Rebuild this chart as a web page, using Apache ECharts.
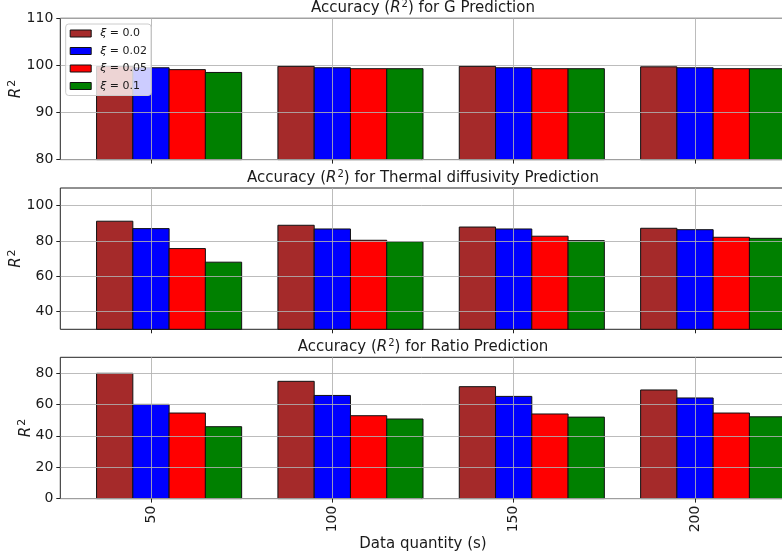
<!DOCTYPE html>
<html>
<head>
<meta charset="utf-8">
<style>
  html, body { margin: 0; padding: 0; background: #fff; }
  #chart { width: 782px; height: 558px; }
</style>
<script src="https://cdn.jsdelivr.net/npm/echarts@6/dist/echarts.min.js"></script>
</head>
<body>
<div id="chart"></div>
<script>
// Data quantity (s) on the shared x axis
const quantities = [50, 100, 150, 200];
const xTicks = [50, 100, 150, 200];

// Noise levels and their bar colours
const xiNames = ['ξ = 0.0', 'ξ = 0.02', 'ξ = 0.05', 'ξ = 0.1'];
const xiColors = ['#a52a2a', '#0000ff', '#ff0000', '#008000'];

// R² for G prediction
const gXi000 = [99.8, 99.8, 99.8, 99.7];
const gXi002 = [99.5, 99.5, 99.5, 99.5];
const gXi005 = [99.1, 99.3, 99.3, 99.3];
const gXi010 = [98.5, 99.3, 99.3, 99.3];

// R² for thermal diffusivity prediction
const tdXi000 = [91.2, 88.9, 87.9, 87.2];
const tdXi002 = [87.0, 86.8, 86.8, 86.4];
const tdXi005 = [75.7, 80.4, 82.7, 82.1];
const tdXi010 = [68.0, 79.6, 80.2, 81.5];

// R² for ratio prediction
const rXi000 = [79.8, 74.7, 71.3, 69.2];
const rXi002 = [60.0, 65.7, 65.1, 64.1];
const rXi005 = [54.5, 52.8, 53.9, 54.5];
const rXi010 = [45.8, 50.7, 51.9, 52.1];

// y tick values per panel
const gTicks = [80, 90, 100, 110];
const tdTicks = [40, 60, 80, 100];
const rTicks = [0, 20, 40, 60, 80];

const panelTitles = ['G', 'Thermal diffusivity', 'Ratio'];

// Bar width in data units; series i is shifted by (i - 1) widths
const BAR_W = 10;

const FONT = 'DejaVu Sans';
const TEXT = '#1a1a1a';

const panels = [
  { series: [gXi000, gXi002, gXi005, gXi010], min: 80, max: 110, ticks: gTicks, top: 18.3, nameGap: 35 },
  { series: [tdXi000, tdXi002, tdXi005, tdXi010], min: 30, max: 110, ticks: tdTicks, top: 188, nameGap: 35 },
  { series: [rXi000, rXi002, rXi005, rXi010], min: 0, max: 90, ticks: rTicks, top: 357.3, nameGap: 25 }
];
const PANEL_H = 141.3;
const GRID_LEFT = 60.3;
const GRID_W = 725.4;

function barRenderer(offsetIdx) {
  return function (params, api) {
    const x = api.value(0);
    const y = api.value(1);
    const cs = params.coordSys;
    const p0 = api.coord([x + (offsetIdx - 1) * BAR_W - BAR_W / 2, y]);
    const p1 = api.coord([x + (offsetIdx - 1) * BAR_W + BAR_W / 2, y]);
    const bottom = cs.y + cs.height;
    const topY = Math.max(p0[1], cs.y);
    return {
      type: 'rect',
      shape: { x: p0[0], y: topY, width: p1[0] - p0[0], height: bottom - topY },
      style: api.style({ fill: xiColors[offsetIdx], stroke: '#111', lineWidth: 1 })
    };
  };
}

const grids = [], xAxes = [], yAxes = [], series = [], titles = [];

panels.forEach((p, gi) => {
  grids.push({
    left: GRID_LEFT, top: p.top, width: GRID_W, height: PANEL_H,
    show: true, borderColor: '#222', borderWidth: 1, backgroundColor: 'transparent',
    outerBoundsMode: 'none'
  });
  const isLast = gi === panels.length - 1;
  xAxes.push({
    type: 'value', gridIndex: gi, min: 25, max: 225, z: 5,
    axisLine: { show: false },
    axisTick: { show: true, inside: false, length: 4, customValues: xTicks, lineStyle: { color: '#222' } },
    axisLabel: {
      show: isLast, customValues: xTicks, rotate: 90, margin: 7,
      fontFamily: FONT, fontSize: 14, color: TEXT
    },
    splitLine: { show: true, lineStyle: { color: 'rgba(176,176,176,0.85)', width: 1 } },
    name: isLast ? 'Data quantity (s)' : '',
    nameLocation: 'middle', nameGap: 38, nameMoveOverlap: false,
    nameTextStyle: { fontFamily: FONT, fontSize: 15, color: TEXT }
  });
  yAxes.push({
    type: 'value', gridIndex: gi, min: p.min, max: p.max, z: 5,
    axisLine: { show: false },
    axisTick: { show: true, length: 4, customValues: p.ticks, lineStyle: { color: '#222' } },
    axisLabel: { customValues: p.ticks, margin: 7, fontFamily: FONT, fontSize: 14, color: TEXT },
    splitLine: { show: true, lineStyle: { color: 'rgba(176,176,176,0.85)', width: 1 } },
    name: '{i|R}{s|2}', nameLocation: 'middle', nameRotate: 90, nameGap: p.nameGap,
    nameMoveOverlap: false,
    nameTextStyle: {
      fontFamily: FONT, fontSize: 15, color: TEXT,
      rich: {
        i: { fontFamily: FONT, fontStyle: 'italic', fontSize: 15, color: TEXT },
        s: { fontFamily: FONT, fontSize: 11, color: TEXT, verticalAlign: 'top', padding: [0, 0, 8, 1] }
      }
    }
  });
  titles.push({
    text: '{n|Accuracy (}{i|R}{s|2}{n|) for ' + panelTitles[gi] + ' Prediction}',
    left: GRID_LEFT + GRID_W / 2, textAlign: 'center',
    top: p.top - 18.5, padding: 0,
    textStyle: {
      fontWeight: 'normal',
      rich: {
        n: { fontFamily: FONT, fontSize: 15, fontWeight: 'normal', color: TEXT },
        i: { fontFamily: FONT, fontSize: 15, fontStyle: 'italic', fontWeight: 'normal', color: TEXT },
        s: { fontFamily: FONT, fontSize: 10, fontWeight: 'normal', color: TEXT, verticalAlign: 'top', padding: [0, 0, 7, 1] }
      }
    }
  });
  p.series.forEach((vals, si) => {
    series.push({
      type: 'custom',
      name: xiNames[si],
      xAxisIndex: gi, yAxisIndex: gi,
      z: 2,
      itemStyle: { color: xiColors[si], borderColor: '#111', borderWidth: 1 },
      renderItem: barRenderer(si),
      encode: { x: 0, y: 1 },
      data: quantities.map((q, k) => [q, vals[k]])
    });
  });
});

const chart = echarts.init(document.getElementById('chart'), null, { renderer: 'canvas' });
chart.setOption({
  animation: false,
  backgroundColor: '#fff',
  title: titles,
  legend: {
    data: xiNames.map((n, i) => ({ name: n, itemStyle: { color: xiColors[i], borderColor: '#111', borderWidth: 1 } })),
    orient: 'vertical', left: 65.7, top: 24,
    icon: 'rect', itemWidth: 21, itemHeight: 7, itemGap: 5.5,
    padding: [3.5, 4, 3.5, 4],
    backgroundColor: 'rgba(255,255,255,0.8)', borderColor: '#ccc', borderWidth: 1, borderRadius: 3,
    z: 10,
    formatter: function (name) { return '{x|ξ}{t|' + name.slice(1) + '}'; },
    textStyle: {
      fontFamily: FONT, fontSize: 11, color: TEXT, lineHeight: 12,
      rich: {
        x: { fontFamily: FONT, fontStyle: 'italic', fontSize: 11, color: TEXT, padding: [0, 0, 0, 4] },
        t: { fontFamily: FONT, fontSize: 11, color: TEXT }
      }
    }
  },
  grid: grids,
  xAxis: xAxes,
  yAxis: yAxes,
  series: series
});
</script>
</body>
</html>
